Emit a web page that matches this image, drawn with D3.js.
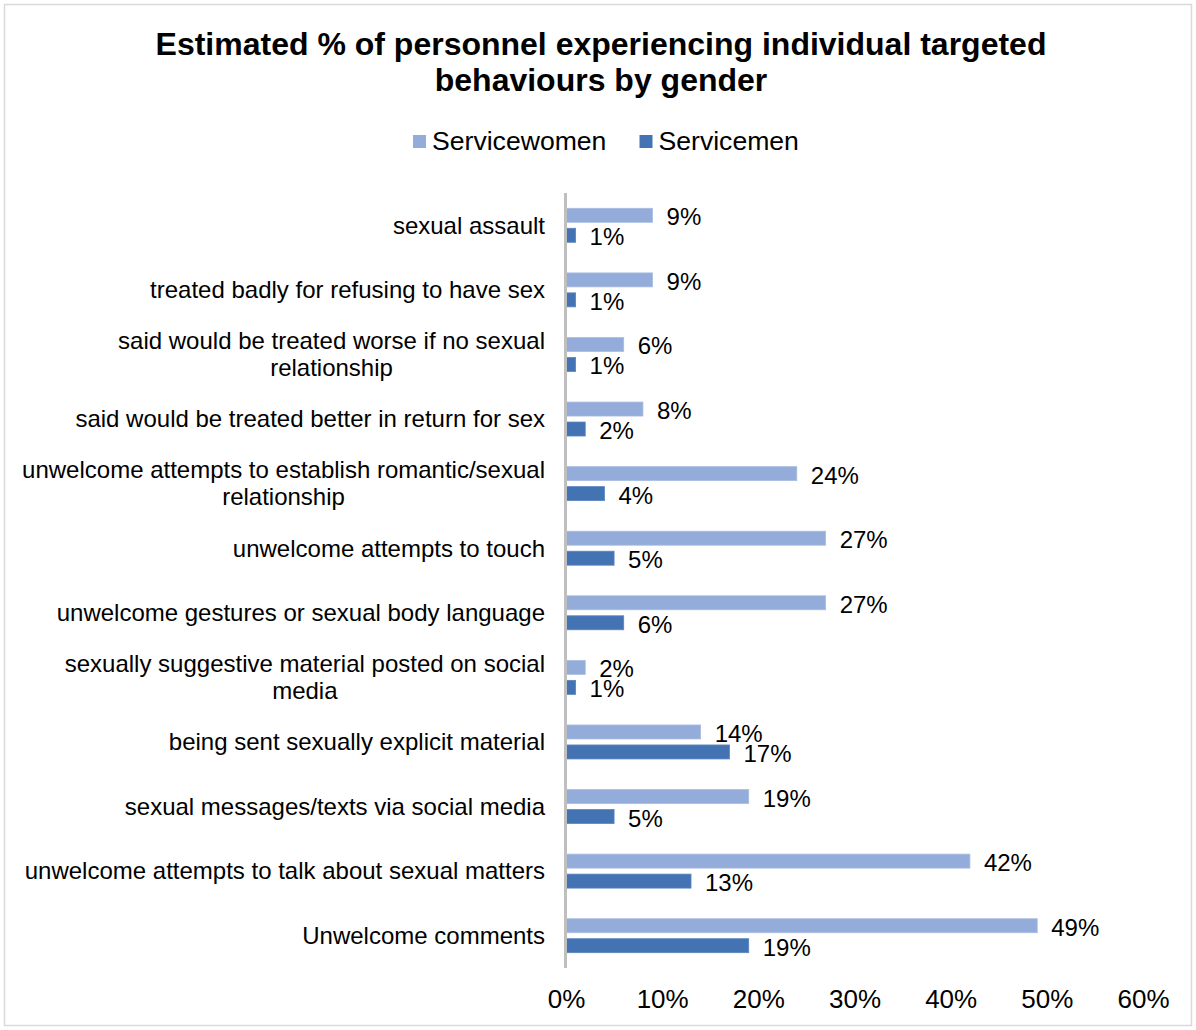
<!DOCTYPE html>
<html>
<head>
<meta charset="utf-8">
<script src="https://cdn.jsdelivr.net/npm/d3@7"></script>
<style>
  html, body { margin: 0; padding: 0; background: #fff; }
  svg { display: block; font-family: "Liberation Sans", Arial, sans-serif; }
</style>
</head>
<body>
<svg id="chart" width="1196" height="1030"></svg>
<script>
// Behaviours (line breaks mark where the axis label wraps)
const categories = [
  "sexual assault",
  "treated badly for refusing to have sex",
  "said would be treated worse if no sexual\nrelationship",
  "said would be treated better in return for sex",
  "unwelcome attempts to establish romantic/sexual\nrelationship",
  "unwelcome attempts to touch",
  "unwelcome gestures or sexual body language",
  "sexually suggestive material posted on social\nmedia",
  "being sent sexually explicit material",
  "sexual messages/texts via social media",
  "unwelcome attempts to talk about sexual matters",
  "Unwelcome comments"
];
const seriesNames = ["Servicewomen", "Servicemen"];
const servicewomen = [9, 9, 6, 8, 24, 27, 27, 2, 14, 19, 42, 49];
const servicemen   = [1, 1, 1, 2, 4, 5, 6, 1, 17, 5, 13, 19];
const xTicks = [0, 10, 20, 30, 40, 50, 60];
const titleLines = [
  "Estimated % of personnel experiencing individual targeted",
  "behaviours by gender"
];

const colors = { "Servicewomen": "#93acd9", "Servicemen": "#4473b4" };
const strokes = { "Servicewomen": "#a9bde2", "Servicemen": "#5a85c0" };

const rows = categories.map((c, i) => ({
  category: c,
  values: [
    { series: "Servicewomen", value: servicewomen[i] },
    { series: "Servicemen", value: servicemen[i] }
  ]
}));

const svg = d3.select("#chart");

// chart frame
svg.append("rect")
  .attr("x", 4.5).attr("y", 4.5)
  .attr("width", 1187).attr("height", 1021)
  .attr("fill", "#fff").attr("stroke", "#d9d9d9").attr("stroke-width", 1.5);

// title
svg.append("text")
  .attr("text-anchor", "middle")
  .attr("font-weight", "bold")
  .attr("font-size", 32)
  .attr("fill", "#000")
  .selectAll("tspan").data(titleLines).join("tspan")
  .attr("x", 601)
  .attr("y", (d, i) => 55 + i * 36)
  .text(d => d);

// scales
const plotTop = 193, plotBottom = 968;
const x = d3.scaleLinear().domain([0, 60]).range([566, 1143]);
const y0 = d3.scaleBand().domain(categories).range([plotTop, plotBottom])
  .paddingInner(0.474).paddingOuter(0.237);
const y1 = d3.scaleBand().domain(seriesNames).range([0, y0.bandwidth()])
  .paddingInner(0.3);

// legend
const legend = svg.append("g").attr("font-size", 26.6);
const legendItems = [
  { name: "Servicewomen", x: 413 },
  { name: "Servicemen", x: 639.5 }
];
legendItems.forEach(it => {
  legend.append("rect")
    .attr("x", it.x).attr("y", 135).attr("width", 13).attr("height", 13)
    .attr("fill", colors[it.name]);
  legend.append("text")
    .attr("x", it.x + 19).attr("y", 150)
    .attr("fill", "#000")
    .text(it.name);
});

// bars
const groups = svg.append("g").selectAll("g").data(rows).join("g")
  .attr("transform", d => `translate(0,${y0(d.category)})`);

groups.selectAll("rect").data(d => d.values).join("rect")
  .attr("x", x(0))
  .attr("y", d => y1(d.series))
  .attr("width", d => x(d.value) - x(0))
  .attr("height", y1.bandwidth())
  .attr("fill", d => colors[d.series])
  .attr("stroke", d => strokes[d.series])
  .attr("stroke-width", 0.8);

// value labels
groups.selectAll("text").data(d => d.values).join("text")
  .attr("x", d => x(d.value) + 14)
  .attr("y", d => y1(d.series) + y1.bandwidth() / 2 + 10)
  .attr("font-size", 24)
  .attr("fill", "#000")
  .text(d => d.value + "%");

// vertical category axis line
svg.append("line")
  .attr("x1", 565.5).attr("x2", 565.5)
  .attr("y1", plotTop).attr("y2", plotBottom)
  .attr("stroke", "#bfbfbf").attr("stroke-width", 3);

// category labels (right-aligned block, wrapped lines centred on each other)
const labelRight = 545, lineH = 27;
const catLabels = svg.append("g").attr("font-size", 24).attr("fill", "#000");
categories.forEach(c => {
  const lines = c.split("\n");
  const cy = y0(c) + y0.bandwidth() / 2;
  const t = catLabels.append("text").attr("text-anchor", "middle");
  const spans = lines.map((ln, i) => t.append("tspan")
    .attr("y", cy + 8.3 + (i - (lines.length - 1) / 2) * lineH)
    .text(ln));
  const maxW = d3.max(spans, s => s.node().getComputedTextLength());
  spans.forEach(s => s.attr("x", labelRight - maxW / 2));
});

// x axis tick labels
const xAxis = d3.axisBottom(x).tickValues(xTicks).tickSize(0).tickPadding(0)
  .tickFormat(d => d + "%");
const gx = svg.append("g").attr("transform", "translate(0,1008)").call(xAxis);
gx.select(".domain").remove();
gx.selectAll("text")
  .attr("dy", 0).attr("y", 0)
  .attr("font-size", 26)
  .attr("font-family", "\"Liberation Sans\", Arial, sans-serif")
  .attr("fill", "#000");
</script>
</body>
</html>
